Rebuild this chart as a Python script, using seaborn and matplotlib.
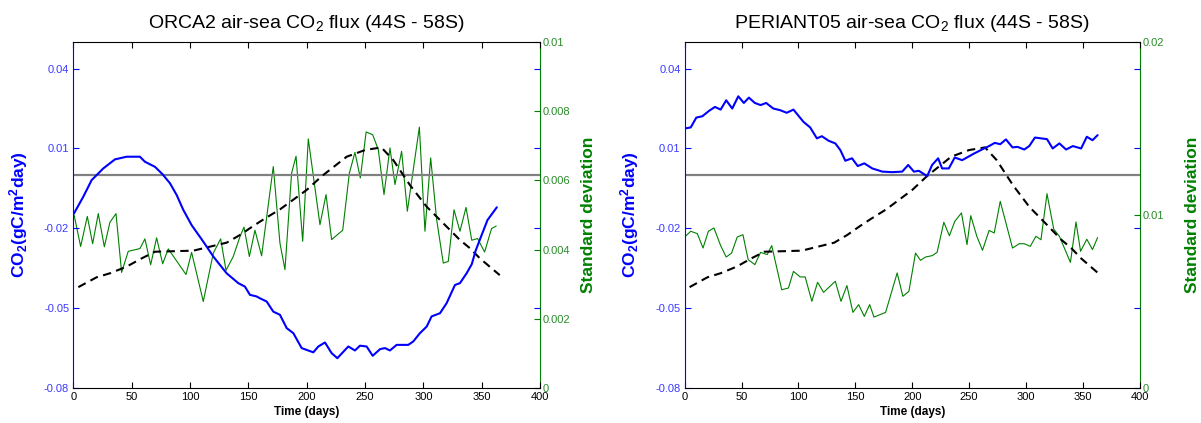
import matplotlib
matplotlib.use("Agg")
import matplotlib.pyplot as plt
import numpy as np
import pandas as pd
import seaborn as sns

# ---- ORCA2: 44S-58S mean air-sea CO2 flux (gC/m2/day) and its standard deviation
orca_flux_days = [0.6, 8.6, 15.7, 25.7, 35.7, 45.7, 57.1, 61.4, 70.0, 76.5, 82.9, 88.6,
                  94.3, 101.4, 111.4, 120.0, 131.4, 141.4, 147.1, 151.4, 157.1, 160.0,
                  165.7, 171.4, 177.1, 182.9, 188.6, 195.7, 205.7, 210.0, 215.7, 221.4,
                  226.3, 235.7, 241.4, 245.7, 251.4, 256.6, 262.9, 267.1, 271.4, 277.1,
                  287.1, 291.4, 297.1, 302.9, 307.1, 314.3, 320.0, 327.1, 331.4, 337.1,
                  341.5, 345.0, 350.0, 355.0, 363.0]
orca_flux = [-0.0144, -0.0081, -0.0019, 0.0025, 0.0059, 0.0069, 0.0069, 0.0050, 0.0031,
             0.0003, -0.0031, -0.0075, -0.0131, -0.0188, -0.0250, -0.0306, -0.0369,
             -0.0406, -0.0419, -0.0450, -0.0456, -0.0463, -0.0475, -0.0513, -0.0525,
             -0.0575, -0.0594, -0.0650, -0.0666, -0.0644, -0.0629, -0.0669, -0.0688,
             -0.0644, -0.0659, -0.0641, -0.0644, -0.0679, -0.0654, -0.0650, -0.0659,
             -0.0638, -0.0638, -0.0625, -0.0594, -0.0569, -0.0531, -0.0519, -0.0481,
             -0.0413, -0.0406, -0.0369, -0.0335, -0.0282, -0.0225, -0.0169, -0.0121]

orca_std_days = [0.6, 6.3, 12.0, 16.6, 21.4, 26.6, 31.4, 36.6, 41.4, 47.1, 57.1, 61.4,
                 66.3, 71.4, 76.6, 81.4, 96.6, 101.4, 111.4, 120.0, 126.3, 130.9, 137.1,
                 142.9, 146.3, 150.9, 155.7, 161.4, 171.4, 177.1, 181.4, 187.1, 190.9,
                 196.6, 201.4, 211.4, 216.6, 221.4, 230.9, 236.6, 241.4, 246.0, 251.0,
                 256.6, 261.4, 266.3, 271.4, 275.7, 281.4, 286.3, 296.6, 301.4, 306.3,
                 311.4, 317.1, 321.4, 326.3, 331.4, 336.6, 341.5, 346.5, 352.5, 358.5,
                 362.5]
orca_std = [0.00501, 0.00409, 0.00496, 0.00417, 0.00504, 0.00408, 0.00479, 0.00504,
            0.00334, 0.00395, 0.00403, 0.00431, 0.00356, 0.00434, 0.00359, 0.00402,
            0.00328, 0.00392, 0.00250, 0.00390, 0.00431, 0.00340, 0.00380, 0.00438,
            0.00465, 0.00380, 0.00456, 0.00382, 0.00640, 0.00419, 0.00342, 0.00621,
            0.00670, 0.00424, 0.00720, 0.00472, 0.00559, 0.00429, 0.00456, 0.00621,
            0.00681, 0.00607, 0.00740, 0.00732, 0.00689, 0.00559, 0.00694, 0.00588,
            0.00684, 0.00511, 0.00754, 0.00453, 0.00665, 0.00487, 0.00361, 0.00366,
            0.00515, 0.00453, 0.00522, 0.00427, 0.00432, 0.00393, 0.00461, 0.00468]

# ---- PERIANT05: same region
periant_flux_days = [0.0, 5.3, 10.2, 15.5, 21.3, 26.6, 31.6, 36.5, 41.8, 47.1, 52.0, 56.4,
                     61.7, 66.7, 71.6, 77.9, 83.8, 89.7, 95.6, 104.4, 110.3, 116.2, 120.6,
                     126.5, 132.4, 136.8, 141.2, 147.1, 152.1, 157.9, 164.9, 173.7, 182.5,
                     191.2, 196.5, 201.5, 205.8, 213.2, 217.5, 222.8, 226.3, 232.2, 237.4,
                     243.9, 254.4, 263.2, 267.6, 272.6, 277.4, 282.4, 288.2, 292.6, 298.5,
                     302.9, 307.9, 313.2, 318.5, 323.5, 329.4, 335.3, 341.2, 348.5, 353.5,
                     358.5, 363.0]
periant_flux = [0.0175, 0.0179, 0.0216, 0.0221, 0.0241, 0.0256, 0.0246, 0.0281, 0.0250,
                0.0296, 0.0271, 0.0291, 0.0271, 0.0263, 0.0271, 0.0250, 0.0244, 0.0234,
                0.0246, 0.0200, 0.0179, 0.0138, 0.0146, 0.0129, 0.0119, 0.0094, 0.0054,
                0.0063, 0.0034, 0.0044, 0.0025, 0.0013, 0.0011, 0.0013, 0.0038, 0.0013,
                0.0016, -0.0004, 0.0038, 0.0063, 0.0025, 0.0025, 0.0066, 0.0056, 0.0081,
                0.0100, 0.0109, 0.0121, 0.0116, 0.0134, 0.0104, 0.0106, 0.0096, 0.0109,
                0.0141, 0.0138, 0.0135, 0.0100, 0.0119, 0.0096, 0.0109, 0.0100, 0.0144,
                0.0131, 0.0150]

periant_std_days = [0.0, 5.3, 11.1, 16.1, 20.8, 25.7, 31.6, 36.5, 41.2, 46.2, 51.2, 55.8,
                    61.7, 66.7, 72.5, 76.5, 85.3, 91.2, 95.6, 101.5, 105.9, 111.8, 116.8,
                    122.1, 132.4, 137.4, 142.6, 147.9, 152.9, 157.9, 162.6, 166.4, 176.6,
                    186.8, 191.8, 197.1, 202.9, 207.3, 211.7, 217.5, 221.9, 227.8, 232.7,
                    237.4, 243.3, 248.2, 251.5, 256.8, 261.8, 267.6, 272.1, 277.4, 288.2,
                    294.1, 298.5, 303.8, 308.8, 313.2, 318.5, 324.4, 329.4, 339.1, 344.0,
                    348.0, 353.5, 358.5, 363.0]
periant_std = [0.00873, 0.00906, 0.00892, 0.00809, 0.00906, 0.00925, 0.00823, 0.00757,
               0.00780, 0.00873, 0.00886, 0.00742, 0.00713, 0.00784, 0.00771, 0.00823,
               0.00568, 0.00578, 0.00674, 0.00642, 0.00642, 0.00501, 0.00611, 0.00553,
               0.00617, 0.00501, 0.00592, 0.00437, 0.00482, 0.00414, 0.00482, 0.00410,
               0.00437, 0.00665, 0.00530, 0.00559, 0.00780, 0.00738, 0.00757, 0.00765,
               0.00784, 0.00958, 0.00880, 0.00963, 0.01012, 0.00829, 0.00996, 0.00877,
               0.00796, 0.00911, 0.00896, 0.01079, 0.00809, 0.00834, 0.00834, 0.00819,
               0.00877, 0.00857, 0.01123, 0.00919, 0.00877, 0.00726, 0.00960, 0.00790,
               0.00860, 0.00800, 0.00870]

# ---- observed climatological flux, drawn dashed in both panels
clim_days = [4.3, 20.0, 31.4, 45.7, 58.6, 70.0, 102.9, 117.1, 131.4, 142.9, 154.3, 164.3,
             177.1, 200.0, 213.0, 234.3, 250.0, 264.0, 274.3, 288.6, 302.9, 317.1, 331.4,
             340.0, 348.5, 365.5]
clim_flux = [-0.0421, -0.0384, -0.0369, -0.0344, -0.0313, -0.0288, -0.0284, -0.0269,
             -0.0254, -0.0225, -0.0191, -0.0163, -0.0129, -0.0056, -0.0004, 0.0069,
             0.0094, 0.0104, 0.0056, -0.0038, -0.0119, -0.0181, -0.0244, -0.0275,
             -0.0313, -0.0376]

flux_ticks = [-0.08, -0.05, -0.02, 0.01, 0.04]
flux_tick_labels = ["-0.08", "-0.05", "-0.02", "0.01", "0.04"]
day_ticks = [0, 50, 100, 150, 200, 250, 300, 350, 400]
zero_level = 0.0

orca_std_ticks = [0, 0.002, 0.004, 0.006, 0.008, 0.01]
orca_std_labels = ["0", "0.002", "0.004", "0.006", "0.008", "0.01"]
periant_std_ticks = [0, 0.01, 0.02]
periant_std_labels = ["0", "0.01", "0.02"]

BLUE = "#0000ff"
TICK_BLUE = "#3a3aff"
GREEN = "#008000"
TICK_GREEN = "#2a8a2a"

sns.set_style("white")
plt.rcParams["font.family"] = ["Liberation Sans", "DejaVu Sans"]
plt.rcParams["text.color"] = "black"
plt.rcParams["axes.labelcolor"] = "black"
plt.rcParams["mathtext.fontset"] = "custom"
plt.rcParams["mathtext.rm"] = "Liberation Sans"
plt.rcParams["mathtext.it"] = "Liberation Sans:italic"
plt.rcParams["mathtext.bf"] = "Liberation Sans:bold"

W, H = 1201, 423
fig = plt.figure(figsize=(W / 100, H / 100), dpi=100)


def panel(rect, title, fdays, fvals, sdays, svals, smax, sticks, slabels, ylab_x, rlab_x):
    ax = fig.add_axes(rect)
    axr = ax.twinx()
    ax.set_zorder(axr.get_zorder() + 1)
    ax.patch.set_visible(False)

    std_df = pd.DataFrame({"day": sdays, "std": svals})
    sns.lineplot(data=std_df, x="day", y="std", ax=axr, color=GREEN, linewidth=0.8,
                 sort=False, estimator=None)

    ax.axhline(zero_level, color="#808080", linewidth=1.6, zorder=1.5)

    clim_df = pd.DataFrame({"day": clim_days, "flux": clim_flux})
    sns.lineplot(data=clim_df, x="day", y="flux", ax=ax, color="black", linewidth=1.5,
                 sort=False, estimator=None)
    ax.lines[-1].set_dashes((4, 2.6))

    flux_df = pd.DataFrame({"day": fdays, "flux": fvals})
    sns.lineplot(data=flux_df, x="day", y="flux", ax=ax, color=BLUE, linewidth=1.5,
                 sort=False, estimator=None)

    ax.set_xlim(0, 400)
    ax.set_ylim(-0.08, 0.05)
    axr.set_ylim(0, smax)

    ax.set_xticks(day_ticks)
    ax.set_xticklabels([str(d) for d in day_ticks])
    ax.set_yticks(flux_ticks)
    ax.set_yticklabels(flux_tick_labels)
    axr.set_yticks(sticks)
    axr.set_yticklabels(slabels)

    ax.tick_params(axis="x", direction="in", top=True, bottom=True, length=4,
                   width=0.8, labelsize=8, colors="black", pad=3)
    ax.tick_params(axis="y", direction="in", left=True, right=True, labelright=False,
                   length=4, width=0.8, labelsize=8, color=BLUE, labelcolor=TICK_BLUE,
                   pad=3)
    axr.tick_params(axis="y", direction="in", right=True, length=4, width=0.8,
                    labelsize=8, color=GREEN, labelcolor=TICK_GREEN, pad=2)

    for side in ("top", "bottom"):
        ax.spines[side].set_color("black")
        ax.spines[side].set_linewidth(0.8)
        axr.spines[side].set_visible(False)
    ax.spines["left"].set_color(BLUE)
    ax.spines["left"].set_linewidth(0.8)
    ax.spines["right"].set_visible(False)
    axr.spines["left"].set_visible(False)
    axr.spines["right"].set_color(GREEN)
    axr.spines["right"].set_linewidth(0.8)

    ax.set_title(title, fontsize=14, pad=10, color="black")
    ax.set_xlabel("Time (days)", fontsize=8.5, fontweight="bold", labelpad=3,
                  color="black")
    ax.set_ylabel(r"CO$_\mathbf{2}$(gC/m$^\mathbf{2}$day)", color=BLUE, fontsize=12.5,
                  fontweight="bold")
    ax.yaxis.set_label_coords(ylab_x, 0.5)
    axr.set_ylabel("Standard deviation", color=GREEN, fontsize=12.5, fontweight="bold")
    axr.yaxis.set_label_coords(rlab_x, 0.5)


bottom = (H - 388) / H
height = 346 / H
panel([73.3 / W, bottom, 466.7 / W, height],
      "ORCA2 air-sea CO$_2$ flux (44S - 58S)",
      orca_flux_days, orca_flux, orca_std_days, orca_std, 0.01,
      orca_std_ticks, orca_std_labels, -0.093, 1.088)
panel([684.7 / W, bottom, 455.0 / W, height],
      "PERIANT05 air-sea CO$_2$ flux (44S - 58S)",
      periant_flux_days, periant_flux, periant_std_days, periant_std, 0.02,
      periant_std_ticks, periant_std_labels, -0.097, 1.099)

fig.savefig("out.png", dpi=100)
